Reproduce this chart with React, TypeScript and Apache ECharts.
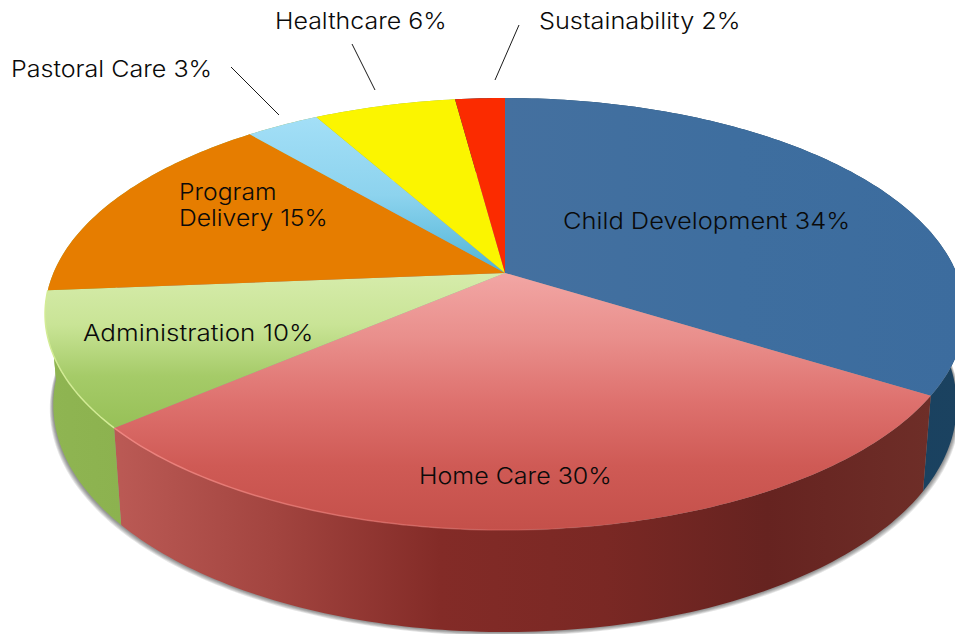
import React, { useEffect, useRef } from "react";
import * as echarts from "echarts";

const categories = ["Child Development", "Home Care", "Administration", "Program Delivery", "Pastoral Care", "Healthcare", "Sustainability"];
// Wedge sizes (they round to the printed percentages).
const shares = [33.9, 29.8, 10.0, 15.1, 3.1, 6.0, 2.1];
const labelTexts = ["Child Development 34%", "Home Care 30%", "Administration 10%", "Program\nDelivery 15%", "Pastoral Care 3%", "Healthcare 6%", "Sustainability 2%"];
const labelAnchors = [[563, 220], [419, 476], [83, 333], [179, 205], [11, 69], [275, 21], [539, 21]];
const labelStretch = [1.107, 1.087, 1.13, 1.075, 1.09, 1.085, 1.1];
const leaderLines = [[231, 67, 279, 115], [352, 44, 375, 90], [519, 25, 495, 80]];
const shadowLayers = [5, 4, 3, 2, 1];

const LG = echarts.graphic.LinearGradient;
const v = (stops: string[]) => new LG(0, 0, 0, 1, stops.map((color, i) => ({ offset: i / (stops.length - 1), color })));
const h = (stops: string[]) => new LG(0, 0, 1, 0, stops.map((color, i) => ({ offset: i / (stops.length - 1), color })));

const topFills = [
  h(["#44709f", "#3e6e9f", "#3c6c9e"]),
  v(["#f2a6a4", "#e98f8c", "#de716e", "#cf5a55", "#c4504a"]),
  v(["#d6ecab", "#c9e496", "#a5cb68", "#97c057"]),
  "#e67d00",
  v(["#a3dff7", "#8dd3ee", "#4fb4d6"]),
  "#fbf500",
  "#fb2b00",
];
const wallFills = [
  h(["#14405f", "#15405f", "#1b4260"]),
  h(["#bb5a55", "#a2443f", "#832b27", "#7a2824", "#662320", "#6e2e28"]),
  h(["#8fb552", "#8cb24f"]),
  "#8fb552",
  "#8fb552",
  "#8fb552",
  "#14405f",
];
const rimStrokes = [
  null,
  h(["rgba(240,135,130,0.95)", "rgba(235,120,115,0.6)", "rgba(235,120,115,0)", "rgba(235,120,115,0)"]),
  "#d3ec96",
  null, null, null, null,
];

// Perspective projection of the round pie onto the page.
const CX = 505, CY = 273, PK = -0.19, PA = 208.2, PB = 451.6;
const project = (deg: number) => {
  const a = (deg * Math.PI) / 180;
  const u = Math.sin(a), w = -Math.cos(a), d = 1 + PK * w;
  return { x: CX + (PB * u) / d, y: CY + (PA * w) / d, w };
};
const upper = (deg: number) => { const q = project(deg); return [q.x, q.y]; };
const lower = (deg: number) => {
  const p = project(deg);
  return [CX + 0.982 * (p.x - CX), p.y + 88 + 14 * p.w];
};
const total = shares.reduce((s, x) => s + x, 0);
const sliceRange = (i: number) => {
  const before = shares.slice(0, i).reduce((s, x) => s + x, 0);
  return [(before / total) * 360, ((before + shares[i]) / total) * 360];
};
const sweep = (a0: number, a1: number) => {
  const n = Math.max(2, Math.ceil(a1 - a0));
  return Array.from({ length: n + 1 }, (_, k) => a0 + ((a1 - a0) * k) / n);
};

const FONT = "Inter";
const FONT_SIZE = 23;

export default function App() {
  const ref = useRef<HTMLDivElement>(null);
  useEffect(() => {
    const chart = echarts.init(ref.current!, null, { renderer: "svg" });
    const seriesData = categories.map((name, i) => ({ name, value: shares[i] }));
    chart.setOption({
      animation: false,
      backgroundColor: "#ffffff",
      graphic: leaderLines.map(([x1, y1, x2, y2]) => ({
        type: "line",
        shape: { x1, y1, x2, y2 },
        style: { stroke: "#1a1a1a", lineWidth: 1 },
      })),
      series: [
        {
          type: "custom",
          coordinateSystem: "none",
          name: "shadow",
          z: 1,
          data: shadowLayers,
          renderItem: (p: any) => {
            const d = shadowLayers[p.dataIndex];
            return {
              type: "polygon",
              shape: {
                points: sweep(0, 360).map((a) => {
                  const [x, y] = lower(a);
                  return [CX + (x - CX) * (1 + (d * 0.7) / 450), y + d * 0.8];
                }),
              },
              style: { fill: "rgba(0,0,0,0.1)" },
            };
          },
        },
        {
          type: "custom",
          coordinateSystem: "none",
          name: "walls",
          z: 2,
          data: seriesData,
          renderItem: (p: any) => {
            const [a0, a1] = sliceRange(p.dataIndex);
            const angles = sweep(a0, a1);
            const up = angles.map(upper);
            const down = angles.map(lower).reverse();
            return { type: "polygon", shape: { points: up.concat(down) }, style: { fill: wallFills[p.dataIndex] } };
          },
        },
        {
          type: "custom",
          coordinateSystem: "none",
          name: "tops",
          z: 3,
          data: seriesData,
          renderItem: (p: any) => {
            const [a0, a1] = sliceRange(p.dataIndex);
            const rim = sweep(a0, a1).map(upper);
            const children: any[] = [
              { type: "polygon", shape: { points: [[CX, CY], ...rim] }, style: { fill: topFills[p.dataIndex] } },
            ];
            if (rimStrokes[p.dataIndex]) {
              children.push({
                type: "polyline",
                shape: { points: rim },
                style: { fill: "none", stroke: rimStrokes[p.dataIndex], lineWidth: 1.5 },
              });
            }
            return { type: "group", children };
          },
        },
        {
          type: "custom",
          coordinateSystem: "none",
          name: "labels",
          z: 4,
          data: seriesData,
          renderItem: (p: any) => {
            const [x, y] = labelAnchors[p.dataIndex];
            return {
              type: "text",
              x, y,
              scaleX: labelStretch[p.dataIndex],
              style: {
                x: 0, y: 0,
                text: labelTexts[p.dataIndex],
                fill: "#0a0a0a",
                fontFamily: FONT,
                fontSize: FONT_SIZE,
                fontWeight: 300,
                lineHeight: 26,
                align: "left",
                verticalAlign: "middle",
              },
            };
          },
        },
      ],
    });
    return () => chart.dispose();
  }, []);
  return <div ref={ref} style={{ position: "fixed", left: 0, top: 0, width: 955, height: 634 }} />;
}
